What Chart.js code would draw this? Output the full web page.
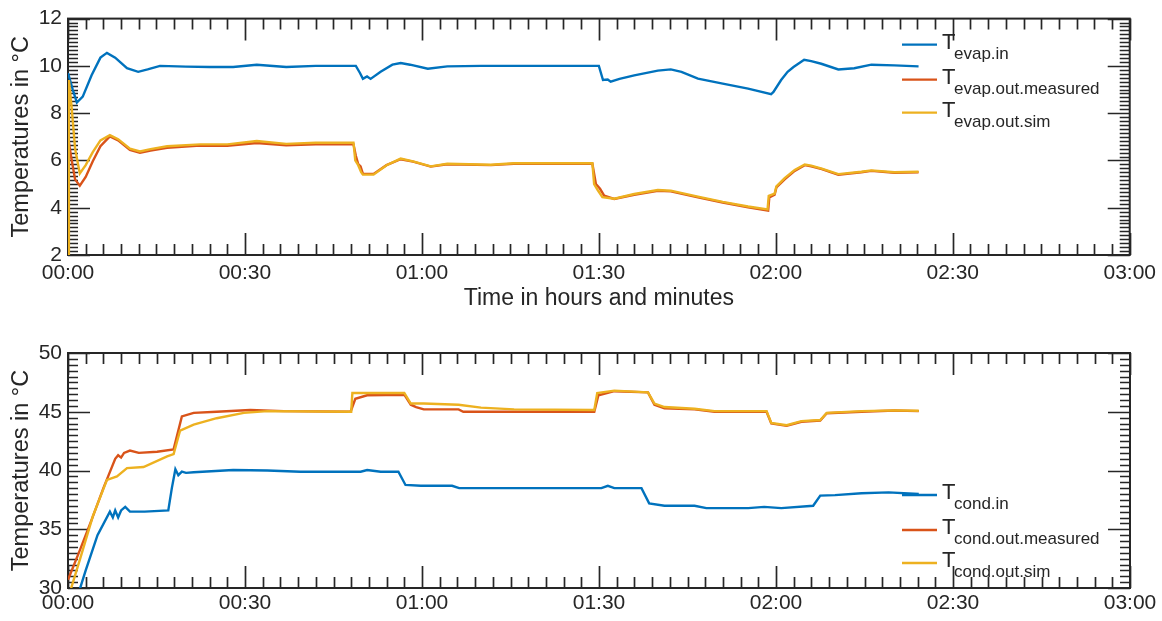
<!DOCTYPE html>
<html><head><meta charset="utf-8">
<script src="https://cdn.jsdelivr.net/npm/chart.js@4"></script>
<style>
html,body{margin:0;padding:0;background:#fff;}
#wrap{position:relative;width:1162px;height:621px;overflow:hidden;}
canvas{position:absolute;left:0;}
</style>
</head><body>
<div id="wrap">
<canvas id="c1" width="1162" height="310" style="top:0"></canvas>
<canvas id="c2" width="1162" height="311" style="top:310px"></canvas>
</div>
<script>
// ---------- DATA (time in minutes, temperatures in °C) ----------
const xTickLabels = ['00:00','00:30','01:00','01:30','02:00','02:30','03:00'];
const evapYTicks = [2,4,6,8,10,12];
const condYTicks = [30,35,40,45,50];
const evapLegend = ['evap.in','evap.out.measured','evap.out.sim'];
const condLegend = ['cond.in','cond.out.measured','cond.out.sim'];

const evapInT = [0,0.8,1.5,2.5,4,5.5,6.6,8,10,11.9,13.5,15.6,20,24,28,32,37,42,48.8,49.5,50,50.7,51.3,53,55,56.4,58,61,64.3,70,80,90,90.7,91.5,92,93.5,96,100,102.2,104,106.8,111,115.3,119.2,119.6,120.9,122,123,124.8,126,127.7,130.6,133.3,136.2,140.1,144.2];
const evapIn  = [9.7,9.0,8.45,8.7,9.6,10.35,10.55,10.35,9.9,9.75,9.85,10.0,9.97,9.95,9.95,10.05,9.95,10.0,10.0,9.7,9.45,9.55,9.45,9.75,10.05,10.12,10.05,9.88,9.98,10.0,10.0,10.0,9.4,9.42,9.33,9.45,9.6,9.8,9.85,9.75,9.46,9.25,9.04,8.8,8.9,9.4,9.75,9.95,10.26,10.2,10.09,9.85,9.9,10.05,10.02,9.98];

const evapOutMeasT = [0,0.5,1.2,2,3,4.2,5.5,7.1,8.5,10.5,12.2,14,16.8,22.4,27,32,37,42,48.4,48.8,49.2,49.6,50,51.8,54,56.4,58.5,61.5,64.3,71.7,75.6,88.9,89.5,90.2,90.9,92.6,96,100,102.2,106.8,111,115.3,118.7,118.9,119.8,120.1,121.5,123.2,124.9,126,127.8,130.6,134.5,136.2,140.1,144.2];
const evapOutMeas  = [7.0,6.2,5.2,4.93,5.3,5.97,6.6,7.02,6.85,6.45,6.32,6.42,6.53,6.63,6.62,6.74,6.64,6.68,6.68,6.2,5.85,5.75,5.43,5.43,5.8,6.05,5.95,5.74,5.84,5.8,5.86,5.86,5.0,4.8,4.51,4.37,4.55,4.72,4.69,4.44,4.22,4.02,3.88,4.44,4.55,4.86,5.2,5.56,5.8,5.75,5.63,5.39,5.5,5.56,5.48,5.5];

const evapOutSimT = [0,0.15,0.6,1.2,2,3,4.2,5.5,7.1,8.5,10.5,12.2,14,16.8,22.4,27,32,37,42,48.4,48.7,49.2,49.7,50,51.8,54,56.4,58.5,61.5,64.3,71.7,75.6,88.9,89.2,89.8,90.6,92.6,96,100,102.2,106.8,111,115.3,118.6,118.8,119.8,120.1,121.5,123.2,124.9,126,127.8,130.6,134.5,136.2,140.1,144.2];
const evapOutSim  = [2.0,9.4,8.3,6.5,5.45,5.8,6.35,6.85,7.07,6.9,6.5,6.38,6.48,6.6,6.68,6.68,6.82,6.7,6.75,6.75,6.0,5.8,5.5,5.4,5.4,5.8,6.08,5.96,5.75,5.86,5.82,5.88,5.88,5.0,4.75,4.45,4.38,4.58,4.75,4.72,4.47,4.25,4.05,3.93,4.5,4.6,4.9,5.25,5.6,5.83,5.78,5.65,5.42,5.52,5.58,5.5,5.52];

const condInT = [2.0,3,5,7.1,7.6,8,8.5,9,9.7,10.5,13,17,17.6,18.2,18.7,19.3,20,21.3,28,33.8,39.4,49.6,50.7,53,56,57.2,59.8,65.1,66.3,90.4,91.5,92.6,97.2,98.5,101.1,106.2,108.2,115.3,118,120.9,126.3,127.5,130,134.5,139.1,144.2];
const condIn  = [29.9,31.5,34.5,36.5,36.0,36.6,36.0,36.6,36.9,36.5,36.5,36.6,38.5,40.1,39.6,39.9,39.8,39.85,40.04,40.0,39.9,39.9,40.04,39.9,39.9,38.77,38.7,38.7,38.5,38.5,38.7,38.5,38.5,37.2,37.0,37.0,36.8,36.8,36.9,36.8,37.0,37.86,37.9,38.06,38.14,38.0];

const condOutMeasT = [0,2,4,6,8,8.5,9,9.5,10.5,12,15.1,17.9,19.3,21.3,25.2,30.9,36.6,47.9,48.7,50.7,57,58.1,59,60.3,66.2,67,89.2,89.9,92.6,98.3,99.4,101.1,106.2,109.6,118.4,119.2,121.8,124.3,127.5,128.6,134.5,140.1,144.2];
const condOutMeas  = [30.7,33.2,35.8,38.5,41.0,41.3,41.1,41.5,41.7,41.5,41.6,41.8,44.6,44.9,45.0,45.15,45.05,45.0,46.1,46.4,46.45,45.6,45.4,45.2,45.2,45.0,45.0,46.4,46.75,46.65,45.6,45.3,45.2,45.0,45.0,44.0,43.8,44.15,44.25,44.87,45.0,45.1,45.05];

const condOutSimT = [0.3,2,4.2,6.6,8.3,10,12.8,16.8,17.9,19,21.3,25.2,29.8,33.8,48.0,48.2,57,58.1,60.3,66.2,70,75.6,89.2,89.7,92.6,98.3,99.4,101.1,106.2,109.6,118.4,119.2,121.8,124.3,127.5,128.6,134.5,140.1,144.2];
const condOutSim  = [29.6,32.4,36.1,39.2,39.5,40.2,40.3,41.2,41.4,43.4,43.9,44.45,44.9,45.05,45.0,46.6,46.6,45.7,45.7,45.6,45.35,45.2,45.15,46.6,46.8,46.65,45.7,45.4,45.25,45.05,45.05,44.05,43.85,44.2,44.3,44.9,45.05,45.12,45.08];

// ---------- STYLE ----------
const BLUE = '#0072BD', RED = '#D95319', YEL = '#EDB120', INK = '#262626';
const FONT = '"Liberation Sans", Arial, Helvetica, sans-serif';
Chart.defaults.font.family = FONT;
Chart.defaults.color = INK;

const pts = (xs, ys) => xs.map((x, i) => ({x, y: ys[i]}));
const fmt = v => { const h = Math.floor(v / 60), m = Math.round(v % 60); return String(h).padStart(2,'0') + ':' + String(m).padStart(2,'0'); };

const frameTicks = {
  id: 'frameTicks',
  beforeDatasetsDraw(chart, args, o) {
    const {ctx, chartArea: a, scales: {x, y}} = chart;
    ctx.save();
    ctx.strokeStyle = INK;
    ctx.lineWidth = 1.7;
    ctx.beginPath();
    const nx = Math.round((x.max - x.min) / o.xMinor);
    for (let i = 0; i <= nx; i++) {
      const v = x.min + i * o.xMinor;
      const px = Math.round(x.getPixelForValue(v)) + 0.5;
      const L = (i % o.xPer === 0) ? o.majorLen : o.minorLen;
      ctx.moveTo(px, a.bottom); ctx.lineTo(px, a.bottom - L);
      ctx.moveTo(px, a.top); ctx.lineTo(px, a.top + L);
    }
    const ny = Math.round((y.max - y.min) / o.yMinor);
    for (let i = 0; i <= ny; i++) {
      const v = y.min + i * o.yMinor;
      const py = Math.round(y.getPixelForValue(v)) + 0.5;
      const major = (i % o.yPer === 0);
      const L = major ? o.majorLen : o.yMinorLen;
      ctx.moveTo(a.left, py); ctx.lineTo(a.left + L, py);
      ctx.moveTo(a.right, py); ctx.lineTo(a.right - L, py);
    }
    ctx.stroke();
    ctx.lineWidth = 2;
    ctx.strokeRect(a.left, a.top, a.width, a.height);
    ctx.restore();
  }
};

const texLegend = {
  id: 'texLegend',
  afterDatasetsDraw(chart, args, o) {
    const {ctx, chartArea: a} = chart;
    ctx.save();
    chart.data.datasets.forEach((ds, i) => {
      const ry = (o.fromBottom ? a.bottom : a.top) + o.rows[i];
      ctx.strokeStyle = ds.borderColor; ctx.lineWidth = 2.3;
      ctx.beginPath(); ctx.moveTo(o.x, ry); ctx.lineTo(o.x + 35, ry); ctx.stroke();
      ctx.fillStyle = INK;
      ctx.textBaseline = 'alphabetic';
      ctx.textAlign = 'left';
      ctx.font = '22px ' + FONT;
      ctx.fillText('T', o.x + 40, ry + 4);
      ctx.font = '17px ' + FONT;
      ctx.fillText(ds.sub, o.x + 52, ry + 14);
    });
    ctx.restore();
  }
};

function makeChart(id, series, yMin, yMax, yStep, yMinorStep, cfg) {
  return new Chart(document.getElementById(id), {
    type: 'line',
    data: {
      datasets: series.map((s, i) => ({
        label: 'T_' + s.sub, sub: s.sub, data: s.data,
        borderColor: s.color, borderWidth: 2.4, pointRadius: 0, tension: 0,
        fill: false, order: 3 - i
      }))
    },
    options: {
      responsive: false, animation: false, events: [],
      layout: {padding: {left: 0, right: 32, top: cfg.top, bottom: 0}},
      plugins: {
        legend: {display: false}, tooltip: {enabled: false},
        frameTicks: {xMinor: 3, xPer: 10, yMinor: yMinorStep, yPer: Math.round(yStep / yMinorStep), majorLen: 22, minorLen: 11, yMinorLen: 10},
        texLegend: cfg.legend
      },
      scales: {
        x: {
          type: 'linear', min: 0, max: 180,
          grid: {display: false, drawTicks: false}, border: {display: false},
          ticks: {stepSize: 30, padding: cfg.xPad, maxRotation: 0, autoSkip: false, color: INK,
                  font: {size: 21}, callback: (v) => { const k = Math.round(v / 30); return xTickLabels[k] ?? fmt(v); }},
          title: {display: cfg.xTitle, text: 'Time in hours and minutes', color: INK, font: {size: 23, lineHeight: 1}, padding: 0},
          afterFit: (s) => { s.height = cfg.xH; }
        },
        y: {
          type: 'linear', min: yMin, max: yMax,
          grid: {display: false, drawTicks: false}, border: {display: false},
          ticks: {stepSize: yStep, padding: 6, color: INK, font: {size: 21}},
          title: {display: true, text: 'Temperatures in °C', color: INK, font: {size: 23.5, lineHeight: 1}, padding: {top: 10, bottom: 0}},
          afterFit: (s) => { s.width = 68; }
        }
      }
    },
    plugins: [frameTicks, texLegend]
  });
}

makeChart('c1', [
  {sub: evapLegend[0], color: BLUE, data: pts(evapInT, evapIn)},
  {sub: evapLegend[1], color: RED, data: pts(evapOutMeasT, evapOutMeas)},
  {sub: evapLegend[2], color: YEL, data: pts(evapOutSimT, evapOutSim)}
], evapYTicks[0], evapYTicks[evapYTicks.length - 1], 2, 2 / 12,
  {top: 16, xH: 55, xPad: 6, xTitle: true, legend: {x: 902, rows: [26, 61, 94], fromBottom: false}});

makeChart('c2', [
  {sub: condLegend[0], color: BLUE, data: pts(condInT, condIn)},
  {sub: condLegend[1], color: RED, data: pts(condOutMeasT, condOutMeas)},
  {sub: condLegend[2], color: YEL, data: pts(condOutSimT, condOutSim)}
], condYTicks[0], condYTicks[condYTicks.length - 1], 5, 0.5,
  {top: 43, xH: 33, xPad: 3, xTitle: false, legend: {x: 902, rows: [-93, -58, -25], fromBottom: true}});
</script>
</body></html>
